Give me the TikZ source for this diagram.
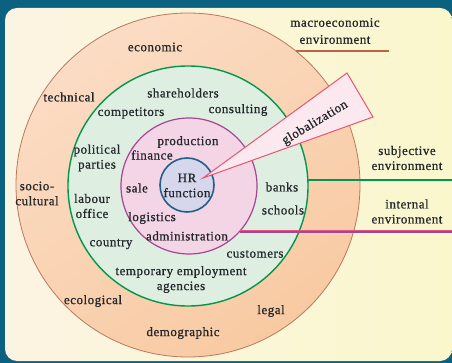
\documentclass[tikz,border=0pt]{standalone}
\usepackage{fontspec}
\setmainfont{Liberation Serif}[LetterSpace=4,FakeBold=0.8]
\definecolor{bgblue}{RGB}{10,98,128}
\definecolor{panelL}{RGB}{252,244,226}
\definecolor{panelR}{RGB}{250,247,205}
\definecolor{ringO}{RGB}{248,202,162}
\definecolor{ringOlight}{RGB}{251,220,196}
\definecolor{ringOline}{RGB}{185,120,95}
\definecolor{ringG}{RGB}{222,239,226}
\definecolor{lineG}{RGB}{0,150,75}
\definecolor{ringP}{RGB}{243,213,230}
\definecolor{lineP}{RGB}{165,70,145}
\definecolor{linePtop}{RGB}{215,90,135}
\definecolor{hrfill}{RGB}{214,214,236}
\definecolor{hrline}{RGB}{35,95,135}
\definecolor{wedgefill}{RGB}{251,233,239}
\definecolor{wedgeline}{RGB}{232,85,115}
\definecolor{macroline}{RGB}{190,100,70}
\definecolor{txt}{RGB}{35,38,42}
\begin{document}
\begin{tikzpicture}[x=1pt,y=-1pt,
  lbl/.style={font=\fontsize{13}{15}\selectfont, text=txt, align=center, inner sep=0pt},
  ring/.style={circle, inner sep=0pt, outer sep=0pt},
  leader/.style={line width=1.8pt, line cap=butt}]
\useasboundingbox (0,0) rectangle (452,363);
\fill[bgblue] (0,0) rectangle (452,363);
\shade[left color=panelL, right color=panelR, rounded corners=12pt] (5,8) rectangle (452,361);

% rings
\shade[top color=ringOlight, bottom color=ringO, shading angle=35] (188,185) circle[radius=172pt];
\node[ring, minimum size=344pt, draw=ringOline, line width=0.8pt] (macro) at (188,185) {};
\node[ring, minimum size=240pt, fill=ringG, draw=lineG, line width=1.4pt] (subj) at (188,186) {};
\node[ring, minimum size=136pt, fill=ringP, draw=lineP, line width=1.2pt] (intern) at (189,186) {};
\node[ring, minimum size=54pt, fill=hrfill, draw=hrline, line width=1.6pt] (hr) at (187,185) {};

% leader lines
\coordinate (macroEnd) at (389,51);
\coordinate (edgeR) at (452,0);
\draw[leader, draw=macroline] (macro.51.3) -- (macro.51.3 -| macroEnd);
\draw[leader, draw=lineG] (subj.3.8) -- (subj.3.8 -| edgeR);
\draw[leader, draw=lineP, line width=2.2pt] (intern.-42.6) -- (intern.-42.6 -| edgeR);
\draw[draw=linePtop, line width=0.8pt, transform canvas={yshift=0.8pt}] (intern.-42.6) -- (intern.-42.6 -| edgeR);

% globalization wedge
\coordinate (gA) at (203,178);
\coordinate (gB) at (347,73);
\coordinate (gC) at (373,117);
\filldraw[fill=wedgefill, draw=wedgeline, line width=1pt] (gA) -- (gB) -- (gC) -- cycle;
\node[lbl, rotate=31] (glob) at (315,123) {globalization};

% labels
\node[lbl] (tMacro) at (335,31) {macroeconomic\\[2pt]environment};
\node[lbl] (tEco) at (155,47) {economic};
\node[lbl] (tTech) at (69,97) {technical};
\node[lbl] (tShare) at (183,93) {shareholders};
\node[lbl] (tComp) at (131,113) {competitors};
\node[lbl] (tCons) at (238,110) {consulting};
\node[lbl] (tPol) at (97,158) {political\\parties};
\node[lbl] (tProd) at (188,142) {production};
\node[lbl] (tFin) at (152,155) {finance};
\node[lbl] (tSale) at (137,188) {sale};
\node[lbl] (tHR) at (187,185.5) {HR\\function};
\node[lbl] (tSocio) at (37,193.5) {socio-\\cultural};
\node[lbl] (tLab) at (92,206) {labour\\office};
\node[lbl] (tBanks) at (282,187) {banks};
\node[lbl] (tSchools) at (283,210) {schools};
\node[lbl] (tLog) at (152,218) {logistics};
\node[lbl] (tAdm) at (187,236) {administration};
\node[lbl] (tCountry) at (111,244) {country};
\node[lbl] (tCust) at (255,254) {customers};
\node[lbl] (tTemp) at (181,279.5) {temporary employment\\agencies};
\node[lbl] (tEcol) at (93,301) {ecological};
\node[lbl] (tLegal) at (271,311) {legal};
\node[lbl] (tDemo) at (183,333) {demographic};
\node[lbl] (tSubj) at (407,158) {subjective\\environment};
\node[lbl] (tInt) at (407,211.5) {internal\\environment};
\end{tikzpicture}
\end{document}
